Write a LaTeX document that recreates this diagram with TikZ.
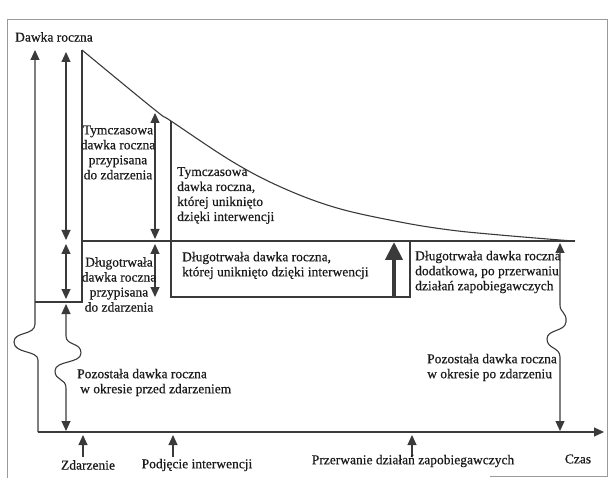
\documentclass[tikz,border=0pt]{standalone}
\usepackage{fontspec}
\setmainfont{Liberation Serif}[UprightFeatures={FakeBold=0.45}]
\usetikzlibrary{arrows.meta}
\definecolor{linec}{HTML}{3A3A3A}
\definecolor{txtc}{HTML}{1A1A1A}
\definecolor{framec}{HTML}{9A9A9A}
\begin{document}
\begin{tikzpicture}[x=1pt,y=-1pt,
  ln/.style={draw=linec, line width=1.1pt},
  tipa/.tip={Triangle[length=10pt,width=9pt]},
  arr/.style={ln, -tipa},
  darr/.style={ln, tipa-tipa},
  lbl/.style={inner sep=0pt, font=\fontsize{13.5}{15}\selectfont, text=txtc},
]
\useasboundingbox (0,0) rectangle (610,478);
% frame
\draw[framec, line width=0.8pt] (7,478) -- (7,19) -- (607,19) -- (607,476) -- (490,476);

% key coordinates
\coordinate (o) at (38,432);
\coordinate (xend) at (604,432);
\coordinate (ytop) at (35,50);
\coordinate (peak) at (82,50);
\coordinate (base0) at (35,302);
\coordinate (base1) at (82,302);
\coordinate (lt0) at (82,241);
\coordinate (lt1) at (575,241);
\coordinate (iv0) at (171,121);
\coordinate (iv1) at (171,297);
\coordinate (ib1) at (410,297);
\coordinate (ib2) at (410,241);

% axes
\draw[arr] (o) -- (38,360) .. controls (38,350) and (14,354) .. (14,342)
  .. controls (14,331) and (35,336) .. (35,324) -- (ytop);
\draw[arr] (o) -- (xend);

% dose profile
\draw[ln] (base0) -- (base1) -- (peak);
\draw[ln] plot[smooth, tension=0.6] coordinates {(82,50) (155,110) (171,121) (233,162) (283,188) (337,208) (400,222) (450,230) (500,235) (560,240) (575,241)};
\draw[ln] (lt0) -- (lt1);
\draw[ln] (iv0) -- (iv1) -- (ib1) -- (ib2);

% thick arrow
\coordinate (tk0) at (394,297);
\coordinate (tk1) at (394,242);
\draw[draw=linec, line width=4pt, -{Triangle[length=18pt,width=17pt]}] (tk0) -- (tk1);

% double arrows at event
\coordinate (a1t) at (66,52);   \coordinate (a1b) at (66,240);
\coordinate (a2t) at (66,244);  \coordinate (a2b) at (66,299);
\coordinate (a3t) at (66,304);  \coordinate (a3b) at (66,431);
\draw[darr] (a1b) -- (a1t);
\draw[darr] (a2t) -- (a2b);
\draw[darr] (a3t) -- (66,336) .. controls (66,346) and (81,342) .. (81,353)
  .. controls (81,364) and (55,360) .. (55,371) .. controls (55,381) and (66,378) .. (66,388) -- (a3b);

% double arrows at x=155
\coordinate (b1t) at (155,113); \coordinate (b1b) at (155,239);
\coordinate (b2t) at (155,244); \coordinate (b2b) at (155,297);
\draw[darr] (b1t) -- (b1b);
\draw[darr] (b2t) -- (b2b);

% right double arrow
\coordinate (c1t) at (560,243); \coordinate (c1b) at (560,431);
\draw[darr] (c1t) -- (560,305) .. controls (560,313) and (567,312) .. (566,322)
  .. controls (565,332) and (547,329) .. (547,339) .. controls (547,349) and (560,347) .. (560,357) -- (c1b);

% tick arrows
\coordinate (t1a) at (83,457);  \coordinate (t1b) at (83,435);
\coordinate (t2a) at (173,457); \coordinate (t2b) at (173,435);
\coordinate (t3a) at (412,457); \coordinate (t3b) at (412,435);
\draw[arr] (t1a) -- (t1b);
\draw[arr] (t2a) -- (t2b);
\draw[arr] (t3a) -- (t3b);

% labels
\node[lbl, anchor=west] (ylab) at (15,37) {Dawka roczna};
\node[lbl, align=center] (la) at (118,152.5) {Tymczasowa\\dawka roczna\\przypisana\\do zdarzenia};
\node[lbl, align=left, anchor=west] (lb) at (177,195.5) {Tymczasowa\\dawka roczna,\\której uniknięto\\dzięki interwencji};
\node[lbl, align=left, anchor=west] (lc) at (182,265.5) {Długotrwała dawka roczna,\\której uniknięto dzięki interwencji};
\node[lbl, align=center] (ld) at (119,284.5) {Długotrwała\\dawka roczna\\przypisana\\do zdarzenia};
\node[lbl, align=left, anchor=west] (le) at (415,272) {Długotrwała dawka roczna\\dodatkowa, po przerwaniu\\działań zapobiegawczych};
\node[lbl, align=left, anchor=west] (lf) at (77,382.5) {Pozostała dawka roczna\\\hspace{3pt}w okresie przed zdarzeniem};
\node[lbl, align=left, anchor=west] (lg) at (427,367.5) {Pozostała dawka roczna\\w okresie po zdarzeniu};
\node[lbl] (lz) at (88,465) {Zdarzenie};
\node[lbl] (lp) at (197,465) {Podjęcie interwencji};
\node[lbl] (lpr) at (413,461) {Przerwanie działań zapobiegawczych};
\node[lbl] (lcz) at (578,459) {Czas};
\end{tikzpicture}
\end{document}
